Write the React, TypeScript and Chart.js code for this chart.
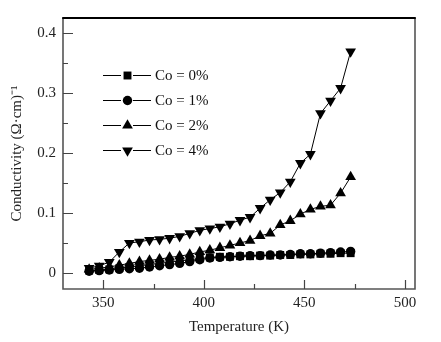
import { useEffect, useRef } from 'react';
import { Chart, registerables } from 'chart.js';

Chart.register(...registerables);

const temperatures = [343, 348, 353, 358, 363, 368, 373, 378, 383, 388, 393, 398, 403, 408, 413, 418, 423, 428, 433, 438, 443, 448, 453, 458, 463, 468, 473];
const co0 = [0.004, 0.005, 0.006, 0.008, 0.010, 0.012, 0.014, 0.016, 0.018, 0.020, 0.022, 0.024, 0.026, 0.027, 0.027, 0.028, 0.028, 0.029, 0.029, 0.030, 0.030, 0.031, 0.031, 0.032, 0.032, 0.033, 0.033];
const co1 = [0.003, 0.004, 0.005, 0.006, 0.007, 0.008, 0.010, 0.012, 0.014, 0.016, 0.019, 0.022, 0.025, 0.026, 0.027, 0.028, 0.029, 0.029, 0.030, 0.030, 0.031, 0.032, 0.032, 0.033, 0.034, 0.035, 0.036];
const co2 = [0.006, 0.008, 0.010, 0.013, 0.016, 0.019, 0.021, 0.023, 0.026, 0.028, 0.031, 0.035, 0.038, 0.042, 0.046, 0.050, 0.054, 0.062, 0.066, 0.080, 0.087, 0.098, 0.106, 0.111, 0.113, 0.133, 0.160];
const co4 = [0.008, 0.012, 0.018, 0.035, 0.050, 0.052, 0.055, 0.056, 0.058, 0.061, 0.066, 0.071, 0.074, 0.077, 0.082, 0.088, 0.093, 0.108, 0.122, 0.134, 0.152, 0.183, 0.198, 0.266, 0.287, 0.308, 0.369];

const seriesLabels = ['Co = 0%', 'Co = 1%', 'Co = 2%', 'Co = 4%'];
const xTicks = [350, 400, 450, 500];
const yTicks = [0, 0.1, 0.2, 0.3, 0.4];
const xMinorTicks = [375, 425, 475];
const yMinorTicks = [0.05, 0.15, 0.25, 0.35];

const FONT = '"Liberation Serif", "Times New Roman", serif';
const FS = 15;

type Marker = { style: string; radius: number; rotation: number };
const markers: Marker[] = [
  { style: 'rect', radius: 5.6, rotation: 0 },
  { style: 'circle', radius: 4.7, rotation: 0 },
  { style: 'triangle', radius: 6.2, rotation: 0 },
  { style: 'triangle', radius: 6.2, rotation: 180 },
];

function drawMarker(ctx: CanvasRenderingContext2D, m: Marker, x: number, y: number) {
  ctx.save();
  ctx.fillStyle = '#000';
  ctx.beginPath();
  if (m.style === 'rect') {
    const s = m.radius * Math.SQRT1_2;
    ctx.rect(x - s, y - s, 2 * s, 2 * s);
  } else if (m.style === 'circle') {
    ctx.arc(x, y, m.radius, 0, Math.PI * 2);
  } else {
    const r = m.radius;
    const rot = (m.rotation * Math.PI) / 180;
    for (let i = 0; i < 3; i++) {
      const a = rot - Math.PI / 2 + (i * 2 * Math.PI) / 3;
      const px = x + Math.cos(a) * r;
      const py = y + Math.sin(a) * r;
      if (i === 0) ctx.moveTo(px, py);
      else ctx.lineTo(px, py);
    }
    ctx.closePath();
  }
  ctx.fill();
  ctx.restore();
}

const framePlugin = {
  id: 'frame',
  afterDraw(chart: any) {
    const { ctx, chartArea } = chart;
    const { left, right, top, bottom } = chartArea;
    const xs = chart.scales.x;
    const ys = chart.scales.y;
    ctx.save();
    ctx.strokeStyle = '#555';
    ctx.lineWidth = 1.6;
    ctx.beginPath();
    ctx.moveTo(left, top);
    ctx.lineTo(left, bottom);
    ctx.lineTo(right, bottom);
    ctx.lineTo(right, top);
    ctx.stroke();
    ctx.strokeStyle = '#000';
    ctx.lineWidth = 2.2;
    ctx.beginPath();
    ctx.moveTo(left - 0.8, top);
    ctx.lineTo(right + 0.8, top);
    ctx.stroke();
    // ticks (inward)
    ctx.strokeStyle = '#444';
    ctx.lineWidth = 1.2;
    ctx.beginPath();
    for (const v of yTicks) {
      const y = Math.round(ys.getPixelForValue(v)) + 0.5;
      ctx.moveTo(left, y);
      ctx.lineTo(left + 10, y);
    }
    for (const v of yMinorTicks) {
      const y = Math.round(ys.getPixelForValue(v)) + 0.5;
      ctx.moveTo(left, y);
      ctx.lineTo(left + 5, y);
    }
    for (const v of xTicks) {
      const x = Math.round(xs.getPixelForValue(v)) + 0.5;
      ctx.moveTo(x, bottom);
      ctx.lineTo(x, bottom - 9);
    }
    for (const v of xMinorTicks) {
      const x = Math.round(xs.getPixelForValue(v)) + 0.5;
      ctx.moveTo(x, bottom);
      ctx.lineTo(x, bottom - 5);
    }
    ctx.stroke();

    // legend
    const rowY = [75, 100, 125, 150];
    ctx.font = FS + 'px ' + FONT;
    ctx.textBaseline = 'middle';
    ctx.textAlign = 'left';
    seriesLabels.forEach((label, i) => {
      const y = rowY[i];
      ctx.strokeStyle = '#000';
      ctx.lineWidth = 1.2;
      ctx.beginPath();
      ctx.moveTo(103, y + 0.5);
      ctx.lineTo(121, y + 0.5);
      ctx.moveTo(133, y + 0.5);
      ctx.lineTo(151, y + 0.5);
      ctx.stroke();
      drawMarker(ctx, markers[i], 127.5, y + 0.5);
      ctx.fillStyle = '#111';
      ctx.fillText(label, 155, y + 1);
    });
    ctx.restore();
  },
};

export default function App() {
  const ref = useRef<HTMLCanvasElement>(null);
  useEffect(() => {
    document.body.style.margin = '0';
    const series = [co0, co1, co2, co4];
    const chart = new Chart(ref.current!, {
      type: 'line',
      data: {
        datasets: series.map((vals, i) => ({
          label: seriesLabels[i],
          data: temperatures.map((t, j) => ({ x: t, y: vals[j] })),
          borderColor: '#000',
          borderWidth: 1,
          backgroundColor: '#000',
          pointBackgroundColor: '#000',
          pointBorderColor: '#000',
          pointBorderWidth: 0,
          pointStyle: markers[i].style as any,
          pointRadius: markers[i].radius,
          pointRotation: markers[i].rotation,
          pointHoverRadius: markers[i].radius,
          fill: false,
          tension: 0,
        })),
      },
      options: {
        responsive: false,
        animation: false,
        events: [],
        layout: { padding: { top: 18, right: 26, left: 0, bottom: 0 } },
        plugins: {
          legend: { display: false },
          tooltip: { enabled: false },
        },
        scales: {
          x: {
            type: 'linear',
            min: 330,
            max: 505,
            afterBuildTicks: (s: any) => {
              s.ticks = xTicks.map((v) => ({ value: v }));
            },
            afterFit: (s: any) => {
              s.height = 53;
            },
            grid: { display: false, drawTicks: false },
            border: { display: false },
            ticks: {
              padding: 5,
              color: '#222',
              font: { family: FONT, size: FS },
              callback: (v: any) => String(v),
              maxRotation: 0,
            },
            title: {
              display: true,
              text: 'Temperature (K)',
              color: '#222',
              font: { family: FONT, size: FS },
              padding: { top: 0, bottom: 6 },
            },
          },
          y: {
            type: 'linear',
            min: -0.0267,
            max: 0.425,
            afterBuildTicks: (s: any) => {
              s.ticks = yTicks.map((v) => ({ value: v }));
            },
            afterFit: (s: any) => {
              s.width = 63;
            },
            grid: { display: false, drawTicks: false },
            border: { display: false },
            ticks: {
              padding: 7,
              color: '#222',
              font: { family: FONT, size: FS },
              callback: (v: any) => (v === 0 ? '0' : Number(v).toFixed(1)),
            },
            title: {
              display: true,
              text: 'Conductivity (Ω·cm)⁻¹',
              color: '#222',
              font: { family: FONT, size: FS },
              padding: { top: 8, bottom: 0 },
            },
          },
        },
      },
      plugins: [framePlugin],
    });
    return () => chart.destroy();
  }, []);
  return <canvas ref={ref} width={441} height={342} style={{ display: 'block' }} />;
}
